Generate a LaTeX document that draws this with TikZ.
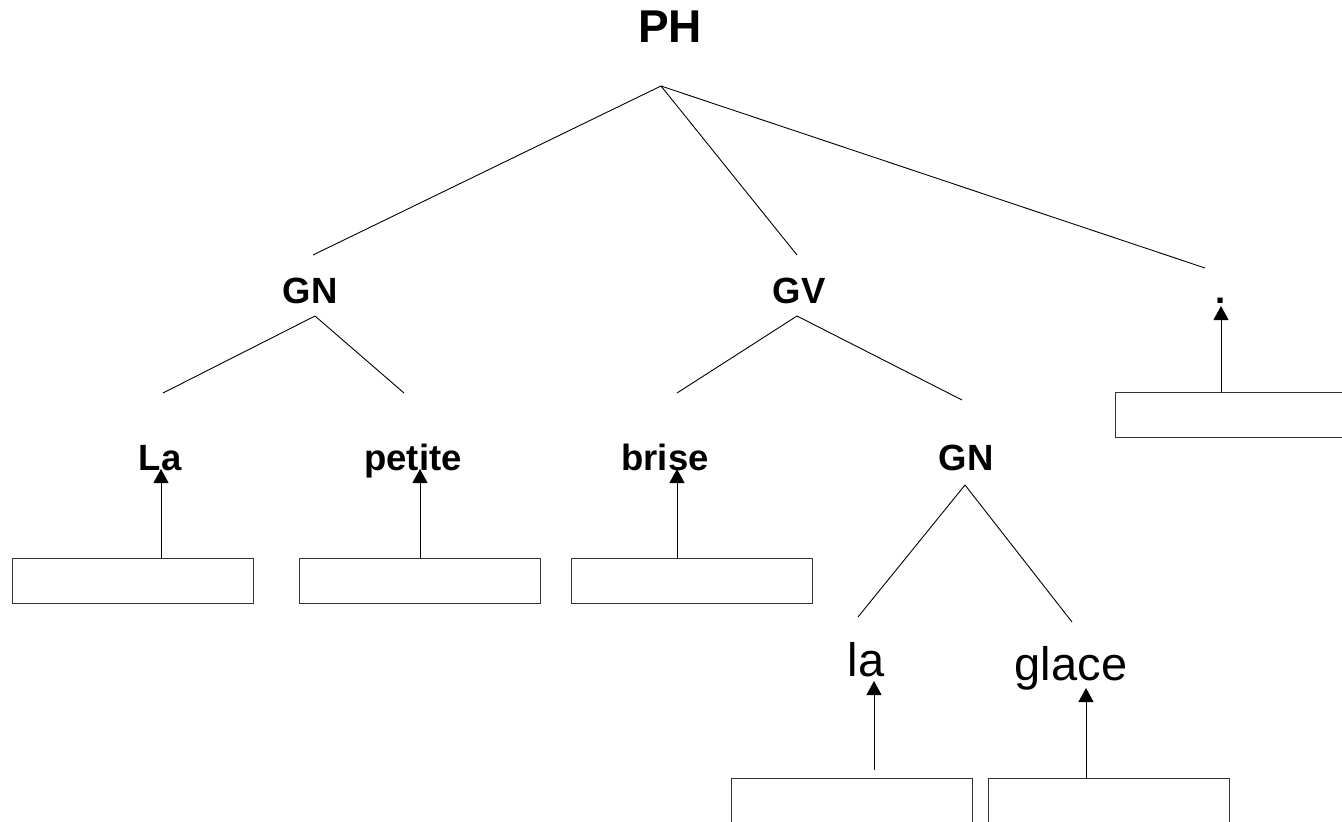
\documentclass[tikz,border=0pt]{standalone}
\usepackage{fontspec}
\setmainfont{Liberation Sans}
\usetikzlibrary{arrows.meta, positioning}
\definecolor{CLine}{HTML}{000000}
\definecolor{CBox}{HTML}{333333}

\tikzset{
  cat/.style={font=\fontsize{36.5}{40}\selectfont\bfseries, anchor=base, inner sep=0pt},
  word/.style={font=\fontsize{47}{52}\selectfont, anchor=base, inner sep=0pt},
  slot/.style={draw=CBox, line width=1pt, minimum width=241pt, minimum height=45pt, inner sep=0pt},
  branch/.style={CLine, line width=0.9pt},
  up/.style={CLine, line width=1pt, -{Triangle[width=15pt, length=14pt]}}
}

\begin{document}
\begin{tikzpicture}[x=1pt, y=-1pt]
    \useasboundingbox (0,0) rectangle (1342,822);
    \clip (0,0) rectangle (1342,822);

    % Root
    \node[font=\fontsize{46}{50}\selectfont\bfseries, anchor=base, inner sep=0pt] (ph) at (670,42) {PH};

    % Categories
    \node[cat] (gn1) at (310,303) {GN};
    \node[cat] (gv) at (799,303) {GV};
    \node[cat] (dot) at (1221,303) {.};
    \node[cat] (la1) at (160,470) {La};
    \node[cat] (petite) at (413,470) {petite};
    \node[cat] (brise) at (665,470) {brise};
    \node[cat] (gn2) at (966,470) {GN};

    % Words
    \node[word] (la2) at (866,676) {la};
    \node[word] (glace) at (1071,680) {glace};

    % Attachment points of the branches
    \coordinate (ph-foot) at (661,86);
    \coordinate (gn1-head) at (313,255);
    \coordinate (gv-head) at (797,255);
    \coordinate (dot-head) at (1205,268);
    \coordinate (gn1-foot) at (315,316);
    \coordinate (la1-head) at (163,393);
    \coordinate (petite-head) at (404,393);
    \coordinate (gv-foot) at (797,316);
    \coordinate (brise-head) at (677,393);
    \coordinate (gn2-head) at (962,400);
    \coordinate (gn2-foot) at (965,485);
    \coordinate (la2-head) at (858,617);
    \coordinate (glace-head) at (1072,622);

    % Branches
    \draw[branch] (ph-foot) -- (gn1-head);
    \draw[branch] (ph-foot) -- (gv-head);
    \draw[branch] (ph-foot) -- (dot-head);
    \draw[branch] (gn1-foot) -- (la1-head);
    \draw[branch] (gn1-foot) -- (petite-head);
    \draw[branch] (gv-foot) -- (brise-head);
    \draw[branch] (gv-foot) -- (gn2-head);
    \draw[branch] (gn2-foot) -- (la2-head);
    \draw[branch] (gn2-foot) -- (glace-head);

    % Empty boxes
    \node[slot] (box-la1) at (132.5,580.5) {};
    \node[slot] (box-petite) at (420,580.5) {};
    \node[slot] (box-brise) at (692,580.5) {};
    \node[slot] (box-dot) at (1236,414.5) {};
    \node[slot, minimum height=90pt] (box-la2) at (851.5,823) {};
    \node[slot, minimum height=90pt] (box-glace) at (1109,823) {};

    % Arrow tips
    \coordinate (tip-la1) at (161,469);
    \coordinate (tip-petite) at (420,469);
    \coordinate (tip-brise) at (677,469);
    \coordinate (tip-dot) at (1221,306);
    \coordinate (tip-la2) at (874,681);
    \coordinate (tip-glace) at (1086,688);

    % Arrows
    \draw[up] (box-la1.north -| tip-la1) -- (tip-la1);
    \draw[up] (box-petite.north -| tip-petite) -- (tip-petite);
    \draw[up] (box-brise.north -| tip-brise) -- (tip-brise);
    \draw[up] (box-dot.north -| tip-dot) -- (tip-dot);
    \draw[up] ([yshift=8pt]box-la2.north -| tip-la2) -- (tip-la2);
    \draw[up] (box-glace.north -| tip-glace) -- (tip-glace);
\end{tikzpicture}
\end{document}
